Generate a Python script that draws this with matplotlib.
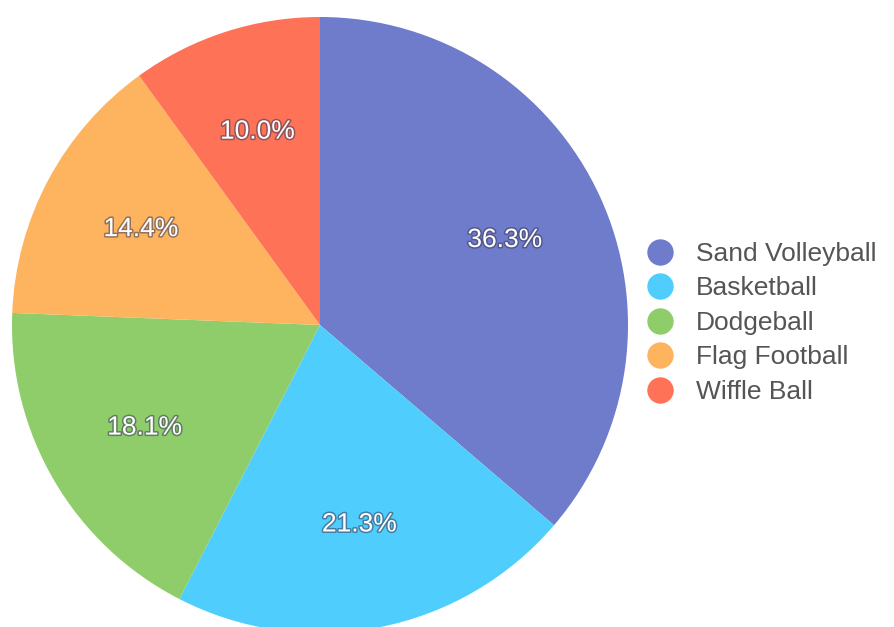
import matplotlib.pyplot as plt
import matplotlib.patheffects as pe
from matplotlib.lines import Line2D

sports = ['Sand Volleyball', 'Basketball', 'Dodgeball', 'Flag Football', 'Wiffle Ball']
shares = [36.3, 21.3, 18.1, 14.4, 10.0]
colors = ['#6f7bcb', '#4fcefe', '#8ecd6a', '#feb45e', '#fe7257']

fig = plt.figure(figsize=(8.95, 6.27), dpi=100)
ax = fig.add_axes([0, 0, 1, 1])

wedges, texts, autotexts = ax.pie(
    shares, colors=colors, startangle=90, counterclock=False,
    center=(320, 302), radius=308, autopct='%1.1f%%', pctdistance=0.66,
    textprops=dict(color='white', fontsize=19, family='Liberation Sans'))
for t in autotexts:
    t.set_path_effects([pe.withStroke(linewidth=2.2, foreground='#3a3a5a', alpha=0.55)])

ax.set_xlim(0, 895)
ax.set_ylim(0, 627)
ax.set_aspect('equal')
ax.axis('off')

handles = [Line2D([], [], marker='o', linestyle='', markersize=19,
                  markerfacecolor=c, markeredgecolor='none') for c in colors]
leg = ax.legend(handles, sports, loc='center left', bbox_to_anchor=(0.705, 0.485),
                frameon=False, labelspacing=0.4, handletextpad=0.75,
                handlelength=1.2, borderpad=0,
                prop=dict(family='Liberation Sans', size=19))
for t in leg.get_texts():
    t.set_color('#555555')

fig.savefig('out.png', dpi=100)
